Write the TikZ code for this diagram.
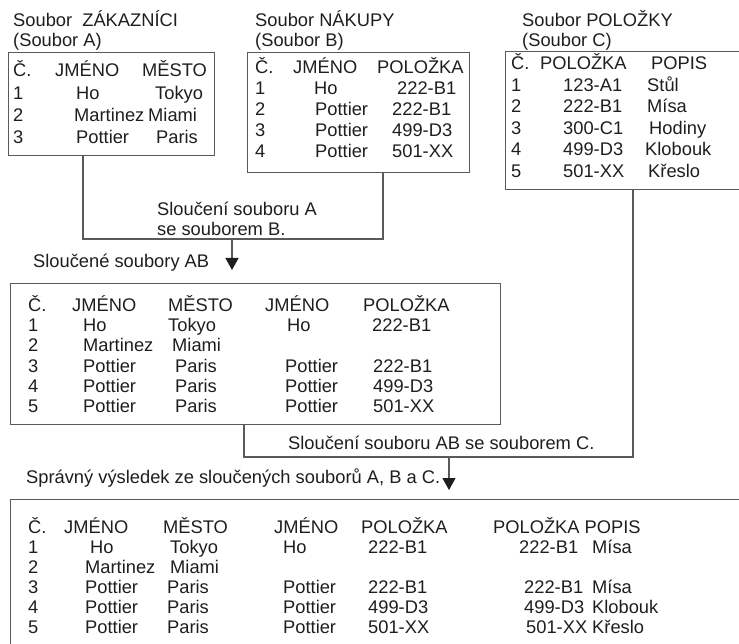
\documentclass[tikz,border=0pt]{standalone}
\usepackage{fontspec}
\setmainfont{Liberation Sans}
\usetikzlibrary{arrows.meta}
\usepackage{xcolor}
\definecolor{linegray}{RGB}{90,90,90}
\definecolor{inkgray}{RGB}{30,30,30}

\begin{document}
\begin{tikzpicture}[x=1pt, y=-1pt,
                every node/.style = {font=\fontsize{18.3pt}{22pt}\selectfont, text=inkgray},
                txt/.style = {anchor=base west, inner sep=0pt},
                box/.style = {draw=linegray, line width=1.2pt, anchor=north west, inner sep=0pt},
                conn/.style = {draw=linegray, line width=1.2pt},
                arr/.style = {conn, -{Triangle[length=12pt,width=13pt,fill=inkgray,color=inkgray]}}]
    \useasboundingbox (0,0) rectangle (739,644);

    % soubor A
    \node[box, minimum width=206pt, minimum height=103pt] (boxA) at (8,52) {};
    \node[txt] (tA) at (13,27) {Soubor\ \ ZÁKAZNÍCI};
    \node[txt] (sA) at (13,47) {(Soubor A)};
    \node[txt] (A01) at (13,77) {Č.}; \node[txt] (A02) at (55,77) {JMÉNO}; \node[txt] (A03) at (142,77) {MĚSTO};
    \node[txt] (A11) at (13,100) {1}; \node[txt] (A12) at (76,100) {Ho}; \node[txt] (A13) at (155,100) {Tokyo};
    \node[txt] (A21) at (13,122) {2}; \node[txt] (A22) at (74,122) {Martinez}; \node[txt] (A23) at (148,122) {Miami};
    \node[txt] (A31) at (13,144) {3}; \node[txt] (A32) at (76,144) {Pottier}; \node[txt] (A33) at (156,144) {Paris};

    % soubor B
    \node[box, minimum width=222pt, minimum height=120pt] (boxB) at (247,52) {};
    \node[txt] (tB) at (255,27) {Soubor NÁKUPY};
    \node[txt] (sB) at (255,47) {(Soubor B)};
    \node[txt] (B01) at (255,74) {Č.}; \node[txt] (B02) at (293,74) {JMÉNO}; \node[txt] (B03) at (377,74) {POLOŽKA};
    \node[txt] (B11) at (255,95) {1}; \node[txt] (B12) at (314,95) {Ho}; \node[txt] (B13) at (397,95) {222-B1};
    \node[txt] (B21) at (255,116) {2}; \node[txt] (B22) at (315,116) {Pottier}; \node[txt] (B23) at (392,116) {222-B1};
    \node[txt] (B31) at (255,137) {3}; \node[txt] (B32) at (315,137) {Pottier}; \node[txt] (B33) at (392,137) {499-D3};
    \node[txt] (B41) at (255,158) {4}; \node[txt] (B42) at (315,158) {Pottier}; \node[txt] (B43) at (392,158) {501-XX};

    % soubor C
    \node[box, minimum width=300pt, minimum height=138pt] (boxC) at (505,51) {};
    \node[txt] (tC) at (522,27) {Soubor POLOŽKY};
    \node[txt] (sC) at (522,47) {(Soubor C)};
    \node[txt] (C01) at (511,70) {Č.}; \node[txt] (C02) at (540,70) {POLOŽKA}; \node[txt] (C03) at (651,70) {POPIS};
    \node[txt] (C11) at (511,92) {1}; \node[txt] (C12) at (563,92) {123-A1}; \node[txt] (C13) at (647,92) {Stůl};
    \node[txt] (C21) at (511,113) {2}; \node[txt] (C22) at (563,113) {222-B1}; \node[txt] (C23) at (647,113) {Mísa};
    \node[txt] (C31) at (511,135) {3}; \node[txt] (C32) at (563,135) {300-C1}; \node[txt] (C33) at (649,135) {Hodiny};
    \node[txt] (C41) at (511,156) {4}; \node[txt] (C42) at (563,156) {499-D3}; \node[txt] (C43) at (645,156) {Klobouk};
    \node[txt] (C51) at (511,178) {5}; \node[txt] (C52) at (563,178) {501-XX}; \node[txt] (C53) at (648,178) {Křeslo};

    % slouceni A a B
    \path (boxA.south west) ++(75,0) coordinate (outA);
    \path (boxB.south west) ++(136,0) coordinate (outB);
    \coordinate (jAB) at (232,239);
    \coordinate (tipAB) at (232,270);
    \draw[conn] (outA) |- (jAB) -| (outB);
    \draw[arr] (jAB) -- (tipAB);
    \node[txt] (mAB1) at (157,216) {Sloučení souboru A};
    \node[txt] (mAB2) at (157,236) {se souborem B.};
    \node[txt] (lAB) at (33,268) {Sloučené soubory AB};

    % soubory AB
    \node[box, minimum width=490pt, minimum height=141pt] (boxAB) at (10,283) {};
    \node[txt] (D01) at (28,312) {Č.}; \node[txt] (D02) at (72,312) {JMÉNO}; \node[txt] (D03) at (168,312) {MĚSTO};
    \node[txt] (D04) at (265,312) {JMÉNO}; \node[txt] (D05) at (363,312) {POLOŽKA};
    \node[txt] (D11) at (28,332) {1}; \node[txt] (D12) at (83,332) {Ho}; \node[txt] (D13) at (168,332) {Tokyo};
    \node[txt] (D14) at (287,332) {Ho}; \node[txt] (D15) at (372,332) {222-B1};
    \node[txt] (D21) at (28,352) {2}; \node[txt] (D22) at (83,352) {Martinez}; \node[txt] (D23) at (172,352) {Miami};
    \node[txt] (D31) at (28,372) {3}; \node[txt] (D32) at (83,372) {Pottier}; \node[txt] (D33) at (175,372) {Paris};
    \node[txt] (D34) at (285,372) {Pottier}; \node[txt] (D35) at (373,372) {222-B1};
    \node[txt] (D41) at (28,392) {4}; \node[txt] (D42) at (83,392) {Pottier}; \node[txt] (D43) at (175,392) {Paris};
    \node[txt] (D44) at (285,392) {Pottier}; \node[txt] (D45) at (373,392) {499-D3};
    \node[txt] (D51) at (28,412) {5}; \node[txt] (D52) at (83,412) {Pottier}; \node[txt] (D53) at (175,412) {Paris};
    \node[txt] (D54) at (285,412) {Pottier}; \node[txt] (D55) at (373,412) {501-XX};

    % slouceni AB a C
    \path (boxAB.south west) ++(234,0) coordinate (outAB);
    \path (boxC.south west) ++(128,0) coordinate (outC);
    \coordinate (jABC) at (449,457);
    \coordinate (tipABC) at (449,490);
    \draw[conn] (outAB) |- (jABC) -| (outC);
    \draw[arr] (jABC) -- (tipABC);
    \node[txt] (mABC) at (288,449) {Sloučení souboru AB se souborem C.};
    \node[txt] (lABC) at (26,483) {Správný výsledek ze sloučených souborů A, B a C.};

    % vysledek
    \node[box, minimum width=760pt, minimum height=147pt] (boxABC) at (10,499) {};
    \node[txt] (E01) at (28,533) {Č.}; \node[txt] (E02) at (64,533) {JMÉNO}; \node[txt] (E03) at (163,533) {MĚSTO};
    \node[txt] (E04) at (274,533) {JMÉNO}; \node[txt] (E05) at (361,533) {POLOŽKA}; \node[txt] (E06) at (493,533) {POLOŽKA POPIS};
    \node[txt] (E11) at (28,553) {1}; \node[txt] (E12) at (90,553) {Ho}; \node[txt] (E13) at (170,553) {Tokyo};
    \node[txt] (E14) at (283,553) {Ho}; \node[txt] (E15) at (368,553) {222-B1}; \node[txt] (E16) at (519,553) {222-B1};
    \node[txt] (E17) at (592,553) {Mísa};
    \node[txt] (E21) at (28,573) {2}; \node[txt] (E22) at (85,573) {Martinez}; \node[txt] (E23) at (170,573) {Miami};
    \node[txt] (E31) at (28,593) {3}; \node[txt] (E32) at (85,593) {Pottier}; \node[txt] (E33) at (167,593) {Paris};
    \node[txt] (E34) at (283,593) {Pottier}; \node[txt] (E35) at (368,593) {222-B1}; \node[txt] (E36) at (524,593) {222-B1};
    \node[txt] (E37) at (592,593) {Mísa};
    \node[txt] (E41) at (28,613) {4}; \node[txt] (E42) at (85,613) {Pottier}; \node[txt] (E43) at (167,613) {Paris};
    \node[txt] (E44) at (283,613) {Pottier}; \node[txt] (E45) at (368,613) {499-D3}; \node[txt] (E46) at (524,613) {499-D3};
    \node[txt] (E47) at (592,613) {Klobouk};
    \node[txt] (E51) at (28,633) {5}; \node[txt] (E52) at (85,633) {Pottier}; \node[txt] (E53) at (167,633) {Paris};
    \node[txt] (E54) at (283,633) {Pottier}; \node[txt] (E55) at (368,633) {501-XX}; \node[txt] (E56) at (526,633) {501-XX};
    \node[txt] (E57) at (592,633) {Křeslo};
\end{tikzpicture}
\end{document}
